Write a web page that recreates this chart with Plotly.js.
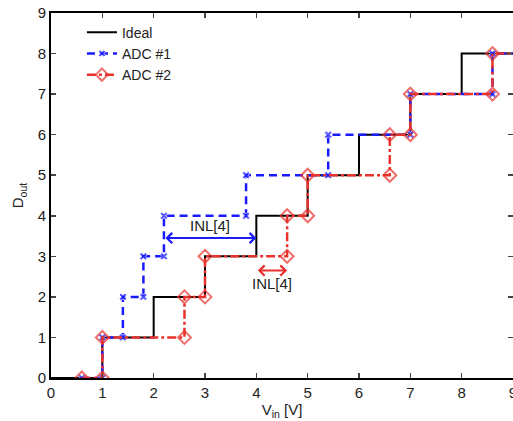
<!DOCTYPE html>
<html>
<head>
<meta charset="utf-8">
<script src="https://cdn.plot.ly/plotly-3.0.1.min.js"></script>
<style>html,body{margin:0;padding:0;background:#fff;}#chart{width:513px;height:421px;}</style>
</head>
<body>
<div id="chart"></div>
<script>
// Ideal transfer curve
const idealX = [0, 1, 1, 2, 2, 3, 3, 4, 4, 5, 5, 6, 6, 7, 7, 8, 8, 9];
const idealY = [0, 0, 1, 1, 2, 2, 3, 3, 4, 4, 5, 5, 6, 6, 7, 7, 8, 8];
// ADC #1
const adc1X = [0.6, 1, 1, 1.4, 1.4, 1.8, 1.8, 2.2, 2.2, 3.8, 3.8, 5.4, 5.4, 7, 7, 8.6, 8.6, 9];
const adc1Y = [0, 0, 1, 1, 2, 2, 3, 3, 4, 4, 5, 5, 6, 6, 7, 7, 8, 8];
// ADC #2
const adc2X = [0.6, 1, 1, 2.6, 2.6, 3, 3, 4.6, 4.6, 5, 5, 6.6, 6.6, 7, 7, 8.6, 8.6, 9];
const adc2Y = [0, 0, 1, 1, 2, 2, 3, 3, 4, 4, 5, 5, 6, 6, 7, 7, 8, 8];
const tickVals = [0, 1, 2, 3, 4, 5, 6, 7, 8, 9];

const font = {family: 'Liberation Sans, Arial, sans-serif', size: 15, color: '#222'};
const legFont = {family: 'Liberation Sans, Arial, sans-serif', size: 14, color: '#222'};

// marker sizes: no marker on the final edge point
const size1 = adc1X.map((v, i) => i === adc1X.length - 1 ? 0 : 7);
const size2 = adc2X.map((v, i) => i === adc2X.length - 1 ? 0 : 10);

const traces = [
  {x: idealX, y: idealY, mode: 'lines', name: 'Ideal',
   line: {color: '#000', width: 2}},
  {x: adc1X, y: adc1Y, mode: 'lines+markers', name: 'ADC #1',
   line: {color: '#1a1aff', width: 2.5, dash: '8px,5px'},
   marker: {symbol: 'x', size: size1, color: '#1a1aff'}},
  {x: adc2X, y: adc2Y, mode: 'lines+markers', name: 'ADC #2',
   line: {color: '#e8322c', width: 2.5, dash: 'dashdot'},
   marker: {symbol: 'diamond-open', size: size2, color: '#e8322c', line: {width: 2, color: '#e8322c'}}}
];

const layout = {
  width: 513, height: 421,
  margin: {l: 51, r: 0, t: 13, b: 43},
  paper_bgcolor: '#fff', plot_bgcolor: '#fff',
  font: font,
  showlegend: true,
  legend: {x: 0.067, y: 0.99, xanchor: 'left', yanchor: 'top', bgcolor: 'rgba(0,0,0,0)',
           font: legFont, tracegroupgap: 0},
  xaxis: {range: [0, 9], tickvals: tickVals, ticks: 'inside', ticklen: 5, tickwidth: 1.5,
          showline: true, linecolor: '#000', linewidth: 2, mirror: 'ticks', showgrid: false,
          zeroline: false, tickfont: font, ticklabeloverflow: 'allow',
          title: {text: 'V<sub>in</sub> [V]', font: font, standoff: 4}},
  yaxis: {range: [0, 9], tickvals: tickVals, ticks: 'inside', ticklen: 5, tickwidth: 1.5,
          showline: true, linecolor: '#000', linewidth: 2, mirror: 'ticks', showgrid: false,
          zeroline: false, tickfont: font,
          title: {text: 'D<sub>out</sub>', font: font, standoff: 10}},
  annotations: [
    {x: 4, y: 3.45, ax: 2.2, ay: 3.45, xref: 'x', yref: 'y', axref: 'x', ayref: 'y',
     showarrow: true, arrowside: 'end+start', arrowhead: 4, startarrowhead: 4,
     arrowsize: 1, startarrowsize: 1, arrowwidth: 2, arrowcolor: '#1a1aff', text: ''},
    {x: 3.1, y: 3.75, xref: 'x', yref: 'y', text: 'INL[4]', showarrow: false, font: font},
    {x: 4.6, y: 2.65, ax: 4.0, ay: 2.65, xref: 'x', yref: 'y', axref: 'x', ayref: 'y',
     showarrow: true, arrowside: 'end+start', arrowhead: 4, startarrowhead: 4,
     arrowsize: 1, startarrowsize: 1, arrowwidth: 2, arrowcolor: '#e8322c', text: ''},
    {x: 4.3, y: 2.32, xref: 'x', yref: 'y', text: 'INL[4]', showarrow: false, font: font}
  ]
};

Plotly.newPlot('chart', traces, layout, {displayModeBar: false, staticPlot: true});
</script>
</body>
</html>
